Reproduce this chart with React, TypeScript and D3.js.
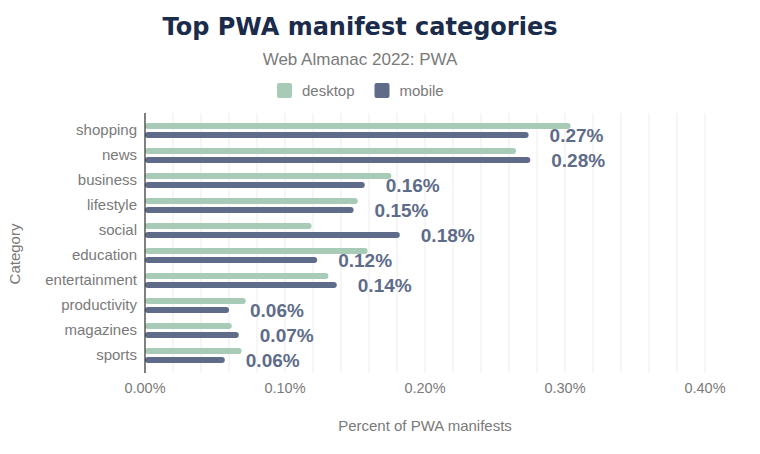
import React from "react";
import * as d3 from "d3";

const categories = [
  "shopping",
  "news",
  "business",
  "lifestyle",
  "social",
  "education",
  "entertainment",
  "productivity",
  "magazines",
  "sports",
];
// percent of PWA manifests (in %)
const desktopValues = [0.304, 0.265, 0.176, 0.152, 0.119, 0.159, 0.131, 0.072, 0.062, 0.069];
const mobileValues = [0.274, 0.2752, 0.157, 0.149, 0.182, 0.123, 0.137, 0.06, 0.067, 0.057];
const xTicks = [0, 0.1, 0.2, 0.3, 0.4];
const seriesNames = ["desktop", "mobile"];

const W = 760;
const H = 454;
const DESKTOP = "#a8cbb8";
const MOBILE = "#5e6c8a";
const GRAY = "#7a7a7a";
const FONT = "'Liberation Sans', Arial, sans-serif";

export default function App() {
  const x = d3.scaleLinear().domain([0, 0.41]).range([145, 145 + 1400 * 0.41]);
  const y = d3
    .scaleBand<string>()
    .domain(categories)
    .range([113, 373])
    .paddingOuter(0.2)
    .paddingInner(0);
  const minor = d3.range(0, 0.4101, 0.02);
  const fmt = (v: number) => d3.format(".2f")(v) + "%";
  const barH = 6;

  return (
    <svg
      width={W}
      height={H}
      style={{ position: "absolute", left: 0, top: 0, background: "#fff" }}
      fontFamily={FONT}
    >
      <text
        x={360}
        y={35}
        textAnchor="middle"
        fontFamily="'DejaVu Sans', sans-serif"
        fontWeight="bold"
        fontSize={24}
        fill="#1a2b4b"
      >
        Top PWA manifest categories
      </text>
      <text x={360} y={65} textAnchor="middle" fontSize={17} fill={GRAY}>
        Web Almanac 2022: PWA
      </text>
      {/* legend */}
      {seriesNames.map((s, i) => {
        const sx = i === 0 ? 277 : 374.5;
        return (
          <g key={s}>
            <rect x={sx} y={83} width={15} height={15} rx={2} fill={i === 0 ? DESKTOP : MOBILE} />
            <text x={sx + 25} y={95.5} fontSize={15} fill={GRAY}>
              {s}
            </text>
          </g>
        );
      })}
      {/* grid */}
      {minor.map((t) => (
        <line
          key={t}
          x1={x(t)}
          x2={x(t)}
          y1={113}
          y2={373}
          stroke="#ececec"
          strokeWidth={1}
        />
      ))}
      {/* bars */}
      {categories.map((c, i) => {
        const cy = (y(c) as number) + y.bandwidth() / 2;
        return (
          <g key={c}>
            <text
              x={137}
              y={cy}
              dy="0.33em"
              textAnchor="end"
              fontSize={15}
              fill={GRAY}
            >
              {c}
            </text>
            <rect
              x={x(0)}
              y={cy - 4.5 - barH / 2}
              width={x(desktopValues[i]) - x(0)}
              height={barH}
              rx={3}
              fill={DESKTOP}
            />
            <rect
              x={x(0)}
              y={cy + 4.5 - barH / 2}
              width={x(mobileValues[i]) - x(0)}
              height={barH}
              rx={3}
              fill={MOBILE}
            />
            <text
              x={x(mobileValues[i]) + 21}
              y={cy + 11}
              fontSize={19}
              fontWeight="bold"
              fill={MOBILE}
            >
              {fmt(mobileValues[i])}
            </text>
          </g>
        );
      })}
      <line x1={x(0)} x2={x(0)} y1={113} y2={373} stroke="#333" strokeWidth={1.2} />
      {/* x ticks */}
      {xTicks.map((t) => (
        <text key={t} x={x(t)} y={393} textAnchor="middle" fontSize={14.5} fill={GRAY}>
          {fmt(t)}
        </text>
      ))}
      <text x={425} y={431} textAnchor="middle" fontSize={15} fill={GRAY}>
        Percent of PWA manifests
      </text>
      <text
        transform={`translate(20,254) rotate(-90)`}
        textAnchor="middle"
        fontSize={15}
        fill={GRAY}
      >
        Category
      </text>
    </svg>
  );
}
